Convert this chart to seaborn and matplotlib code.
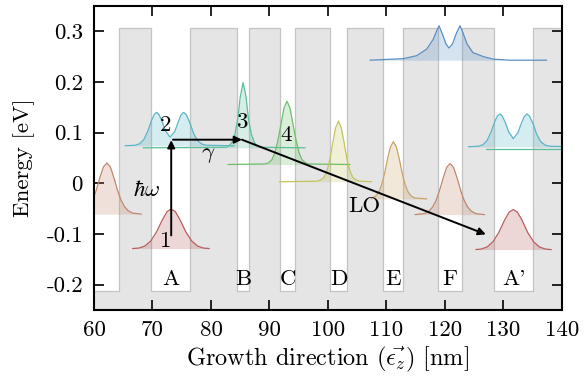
import matplotlib
matplotlib.use('Agg')
import matplotlib.pyplot as plt
import seaborn as sns

# conduction band profile (nm / eV)
barrier_left = [64.2, 76.4, 86.5, 94.3, 103.2, 112.9, 122.9, 135.1]
barrier_right = [69.7, 84.4, 91.8, 100.4, 109.4, 118.9, 128.4, 143.0]
barrier_top = 0.307
well_bottom = -0.213

# wavefunctions (x in nm, y in eV)
s0_x = [56.2, 57.8, 58.6, 59.2, 59.8, 60.4, 61.0, 61.6, 62.2, 62.8, 63.4, 64.0, 64.6, 65.2, 65.8, 66.6, 68.1]
s0_y = [-0.061, -0.059, -0.054, -0.046, -0.033, -0.013, 0.011, 0.032, 0.040, 0.032, 0.011, -0.013, -0.033, -0.046, -0.054, -0.059, -0.061]

s1_x = [66.6, 67.7, 68.7, 69.7, 70.7, 71.7, 72.5, 73.2, 73.9, 74.7, 75.7, 76.7, 77.7, 78.7, 79.7]
s1_y = [-0.129, -0.128, -0.124, -0.114, -0.096, -0.072, -0.056, -0.051, -0.056, -0.072, -0.096, -0.114, -0.124, -0.128, -0.129]

s2_x = [65.3, 67.0, 67.8, 68.5, 69.2, 69.8, 70.3, 70.7, 71.1, 71.6, 72.2, 73.0, 73.8, 74.4, 74.9, 75.35, 75.8, 76.4, 77.0, 77.7, 78.5, 79.3, 84.0]
s2_y = [0.074, 0.075, 0.078, 0.086, 0.103, 0.123, 0.136, 0.140, 0.136, 0.123, 0.104, 0.091, 0.102, 0.121, 0.135, 0.140, 0.135, 0.119, 0.099, 0.084, 0.077, 0.075, 0.074]

s3_x = [68.4, 82.6, 83.1, 83.6, 84.1, 84.6, 85.0, 85.5, 86.0, 86.4, 86.9, 87.4, 87.9, 88.4, 96.1]
s3_y = [0.070, 0.071, 0.074, 0.081, 0.097, 0.128, 0.170, 0.199, 0.170, 0.128, 0.097, 0.081, 0.074, 0.071, 0.070]

s4_x = [82.9, 89.2, 89.8, 90.4, 90.9, 91.4, 92.0, 92.5, 93.0, 93.5, 94.0, 94.6, 95.1, 95.6, 96.2, 96.8, 103.8]
s4_y = [0.037, 0.038, 0.040, 0.046, 0.059, 0.082, 0.118, 0.149, 0.162, 0.149, 0.118, 0.082, 0.059, 0.046, 0.040, 0.038, 0.037]

s5_x = [91.7, 98.1, 98.7, 99.3, 99.8, 100.3, 100.8, 101.3, 101.8, 102.3, 102.8, 103.3, 103.8, 104.3, 104.9, 105.5, 107.5]
s5_y = [0.003, 0.004, 0.006, 0.011, 0.023, 0.045, 0.078, 0.109, 0.123, 0.109, 0.078, 0.045, 0.023, 0.011, 0.006, 0.004, 0.003]

s6_x = [107.4, 107.6, 108.2, 108.7, 109.2, 109.7, 110.2, 110.7, 111.2, 111.7, 112.2, 112.7, 113.2, 113.7, 114.2, 114.8, 116.9]
s6_y = [-0.031, -0.029, -0.025, -0.017, -0.003, 0.020, 0.048, 0.072, 0.082, 0.072, 0.048, 0.020, -0.003, -0.017, -0.025, -0.029, -0.031]

s7_x = [114.9, 116.5, 117.3, 117.9, 118.5, 119.1, 119.7, 120.3, 120.9, 121.5, 122.1, 122.7, 123.3, 123.9, 124.5, 125.3, 126.8]
s7_y = [-0.062, -0.060, -0.055, -0.047, -0.034, -0.014, 0.010, 0.031, 0.039, 0.031, 0.010, -0.014, -0.034, -0.047, -0.055, -0.060, -0.062]

s8_x = [125.3, 126.2, 127.2, 128.2, 129.2, 130.2, 131.0, 131.7, 132.4, 133.2, 134.2, 135.2, 136.2, 137.2, 138.2]
s8_y = [-0.131, -0.130, -0.126, -0.116, -0.098, -0.073, -0.057, -0.052, -0.057, -0.073, -0.098, -0.116, -0.126, -0.130, -0.131]

s9_x = [124.0, 125.7, 126.5, 127.2, 127.9, 128.5, 129.0, 129.4, 129.8, 130.3, 130.9, 131.7, 132.5, 133.1, 133.6, 134.05, 134.5, 135.1, 135.7, 136.4, 137.2, 138.0, 142.7]
s9_y = [0.072, 0.073, 0.076, 0.084, 0.101, 0.121, 0.133, 0.137, 0.133, 0.121, 0.102, 0.088, 0.100, 0.119, 0.132, 0.137, 0.132, 0.117, 0.097, 0.082, 0.075, 0.073, 0.072]

s10_x = [127.1, 140.0]
s10_y = [0.068, 0.068]

s11_x = [107.2, 112.9, 115.2, 116.9, 118.0, 118.6, 119.0, 119.6, 120.2, 120.7, 121.3, 122.0, 122.6, 123.1, 123.8, 124.8, 126.6, 128.3, 131.1, 137.4]
s11_y = [0.243, 0.246, 0.252, 0.265, 0.284, 0.301, 0.311, 0.294, 0.275, 0.267, 0.275, 0.297, 0.311, 0.297, 0.275, 0.258, 0.250, 0.245, 0.243, 0.243]

states = [
    (s11_x, s11_y, '#5b8fc2'),
    (s2_x, s2_y, '#5bb6c6'),
    (s9_x, s9_y, '#5bb6c6'),
    (s3_x, s3_y, '#5cbf9b'),
    (s10_x, s10_y, '#5cbf9b'),
    (s4_x, s4_y, '#6ebf68'),
    (s5_x, s5_y, '#c3c45e'),
    (s6_x, s6_y, '#c8a46a'),
    (s7_x, s7_y, '#c0876e'),
    (s0_x, s0_y, '#c0876e'),
    (s1_x, s1_y, '#b85e5e'),
    (s8_x, s8_y, '#b85e5e'),
]

# arrows (start, end)
arrow_hw = [(73.2, -0.103), (73.2, 0.085)]
arrow_gamma = [(73.5, 0.086), (85.3, 0.086)]
arrow_lo = [(85.3, 0.086), (127.0, -0.101)]

# labels
level_labels = ['1', '2', '3', '4']
level_x = [72.3, 72.2, 85.5, 92.8]
level_y = [-0.114, 0.114, 0.121, 0.095]

layer_labels = ['A', 'B', 'C', 'D', 'E', 'F', "A'"]
layer_x = [73.1, 85.5, 93.1, 101.9, 111.2, 120.8, 131.8]
layer_y = -0.189

xticks = [60, 70, 80, 90, 100, 110, 120, 130, 140]
yticks = [-0.2, -0.1, 0, 0.1, 0.2, 0.3]
ytick_labels = ['-0.2', '-0.1', '0', '0.1', '0.2', '0.3']

sns.set_theme(style='ticks')
plt.rcParams['font.family'] = ['cmr10', 'DejaVu Serif']
plt.rcParams['mathtext.fontset'] = 'cm'
plt.rcParams['axes.unicode_minus'] = False
plt.rcParams['axes.formatter.use_mathtext'] = True
plt.rcParams['text.color'] = 'black'
plt.rcParams['axes.labelcolor'] = 'black'

fig, ax = plt.subplots(figsize=(5.84, 3.76), dpi=100)
fig.subplots_adjust(left=0.161, right=0.962, top=0.984, bottom=0.176)

# band profile: grey below the conduction band edge
prof_x = [55.0]
prof_y = [well_bottom]
for l, r in zip(barrier_left, barrier_right):
    prof_x += [l, l, r, r]
    prof_y += [well_bottom, barrier_top, barrier_top, well_bottom]
ax.fill_between(prof_x, -0.3, prof_y, color='#e5e5e5', lw=0, zorder=0.5)
ax.plot(prof_x, prof_y, color='#c4c4c4', lw=0.9, zorder=0.6)

for xs, ys, c in states:
    ax.fill_between(xs, ys[0], ys, color=c, alpha=0.25, lw=0, zorder=1)
    sns.lineplot(x=xs, y=ys, ax=ax, color=c, lw=0.9, sort=False, estimator=None, zorder=2)

for (x0, y0), (x1, y1) in [arrow_hw, arrow_gamma, arrow_lo]:
    ax.annotate('', xy=(x1, y1), xytext=(x0, y0),
                arrowprops=dict(arrowstyle='-|>', color='black', lw=1.4,
                                mutation_scale=11, shrinkA=0, shrinkB=0), zorder=4)

for t, x, y in zip(level_labels, level_x, level_y):
    ax.text(x, y, t, fontsize=16.5, color='black', ha='center', va='center', zorder=5)
for t, x in zip(layer_labels, layer_x):
    ax.text(x, layer_y, t, fontsize=16.5, color='black', ha='center', va='center', zorder=5)
ax.text(69.0, -0.013, r'$\hbar\omega$', fontsize=16.5, color='black', ha='center', va='center', zorder=5)
ax.text(79.5, 0.055, r'$\gamma$', fontsize=16.5, color='black', ha='center', va='center', zorder=5)
ax.text(106.3, -0.046, 'LO', fontsize=16.5, color='black', ha='center', va='center', zorder=5)

ax.set_xlim(60, 140)
ax.set_ylim(-0.25, 0.35)
ax.set_xticks(xticks)
ax.set_xticklabels([str(v) for v in xticks])
ax.set_yticks(yticks)
ax.set_yticklabels(ytick_labels)
ax.tick_params(direction='in', length=7, width=1.2, top=True, right=True,
               labelsize=16.5, pad=8, colors='black')
for sp in ax.spines.values():
    sp.set_linewidth(1.5)
    sp.set_color('black')

ax.set_xlabel(r'Growth direction ($\vec{\epsilon_z}$) [nm]', fontsize=17.5, labelpad=3)
ax.set_ylabel('Energy [eV]', fontsize=16.5, labelpad=8)

plt.savefig('out.png', dpi=100)
